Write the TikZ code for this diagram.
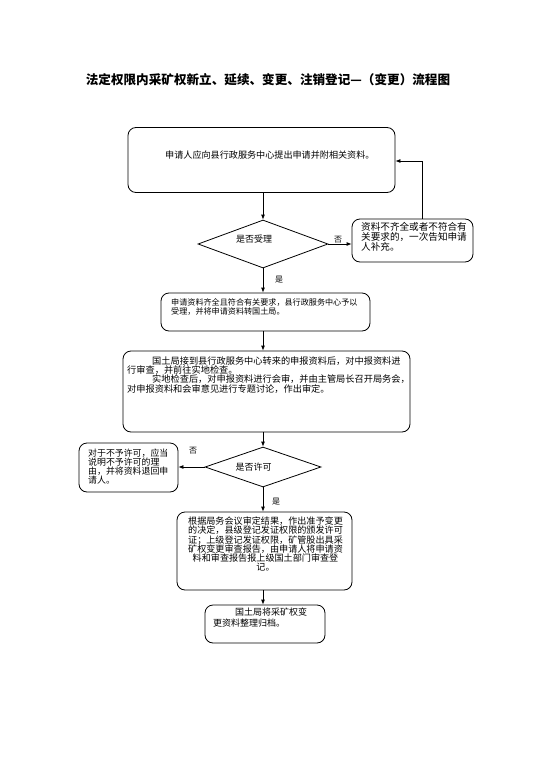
\documentclass[tikz,border=0pt]{standalone}
\usepackage{fontspec}
\setmainfont{Noto Sans CJK SC}
\usetikzlibrary{shapes.geometric,arrows.meta}
\newcommand\myls{\lineskiplimit=-5pt\relax}
\begin{document}
\begin{tikzpicture}[x=1pt,y=-1pt,
  box/.style={draw,rounded corners=8pt,line width=0.8pt,inner sep=0},
  dia/.style={draw,diamond,line width=0.8pt,inner sep=0},
  txt/.style={inner sep=0,align=left,anchor=north west},
  arr/.style={-{Latex[length=5pt,width=4pt]},line width=0.8pt},
  lab/.style={inner sep=0,font=\fontsize{8}{9}\selectfont}]
\useasboundingbox (0,0) rectangle (542,768);
\fill[white] (0,0) rectangle (542,768);
% title
\node[inner sep=0,font=\fontsize{12.6}{14}\selectfont\bfseries] (title) at (268,80) {法定权限内采矿权新立、延续、变更、注销登记—（变更）流程图};
% boxes
\node[box,minimum width=267pt,minimum height=65pt] (b1) at (261.5,160) {};
\node[inner sep=0,anchor=west,font=\fontsize{9.1}{10}\selectfont] (t1) at (165,155) {申请人应向县行政服务中心提出申请并附相关资料。};
\node[dia,minimum width=130pt,minimum height=48pt] (d1) at (263,244) {};
\node[inner sep=0,font=\fontsize{9}{10}\selectfont] (td1) at (254,239) {是否受理};
\node[box,minimum width=121pt,minimum height=43pt] (b2) at (412.5,240.5) {};
\node[txt,font=\fontsize{9.6}{10}\selectfont\myls] (t2) at (361,222.5) {资料不齐全或者不符合有\\关要求的，一次告知申请\\人补充。};
\node[box,minimum width=209pt,minimum height=38pt] (b3) at (265.5,312) {};
\node[txt,font=\fontsize{8.1}{9}\selectfont\myls] (t3) at (171,298) {申请资料齐全且符合有关要求，县行政服务中心予以\\受理，并将申请资料转国土局。};
\node[box,minimum width=287pt,minimum height=81pt] (b4) at (266.5,391.5) {};
\node[txt,font=\fontsize{9.2}{9.2}\selectfont\myls] (t4) at (127,356.5) {\hspace*{25pt}国土局接到县行政服务中心转来的申报资料后，对中报资料进\\行审查，并前往实地检查。\\\hspace*{25pt}实地检查后，对申报资料进行会审，并由主管局长召开局务会，\\对申报资料和会审意见进行专题讨论，作出审定。};
\node[dia,minimum width=116pt,minimum height=40pt] (d2) at (263,467) {};
\node[inner sep=0,font=\fontsize{9}{10}\selectfont] (td2) at (253.5,467) {是否许可};
\node[box,minimum width=99pt,minimum height=49pt] (b5) at (128.5,467.5) {};
\node[txt,font=\fontsize{8.9}{9}\selectfont\myls] (t5) at (88,448.5) {对于不予许可，应当\\说明不予许可的理\\由，并将资料退回申\\请人。};
\node[box,minimum width=175pt,minimum height=78pt] (b6) at (264.5,551) {};
\node[inner sep=0,align=center,anchor=north,font=\fontsize{9.1}{9.3}\selectfont\myls] (t6) at (265.5,516.5) {根据局务会议审定结果，作出准予变更\\的决定，县级登记发证权限的颁发许可\\证；上级登记发证权限，矿管股出具采\\矿权变更审查报告，由申请人将申请资\\料和审查报告报上级国土部门审查登\\记。};
\node[box,minimum width=120pt,minimum height=38pt] (b7) at (265,624) {};
\node[txt,font=\fontsize{9}{11}\selectfont\myls] (t7) at (213,607.5) {\hspace*{22pt}国土局将采矿权变\\更资料整理归档。};
% labels
\node[lab] (n1) at (338,240) {否};
\node[lab] (y1) at (279,280) {是};
\node[lab] (n2) at (193,451) {否};
\node[lab] (y2) at (276,502) {是};
% connectors
\coordinate (k) at (422,161);
\draw[arr] (d1.north |- b1.south) -- (d1.north);
\draw[arr] (d1.east) -- (d1.east -| b2.west);
\draw[arr] (b2.north -| k) -- (k) -- (k -| b1.east);
\draw[arr] (d1.south) -- (d1.south |- b3.north);
\draw[arr] (d1.south |- b3.south) -- (d1.south |- b4.north);
\draw[arr] (d2.north |- b4.south) -- (d2.north);
\draw[arr] (d2.west) -- (d2.west -| b5.east);
\draw[arr] (d2.south) -- (d2.south |- b6.north);
\draw[arr] (d2.south |- b6.south) -- (d2.south |- b7.north);
\end{tikzpicture}
\end{document}
